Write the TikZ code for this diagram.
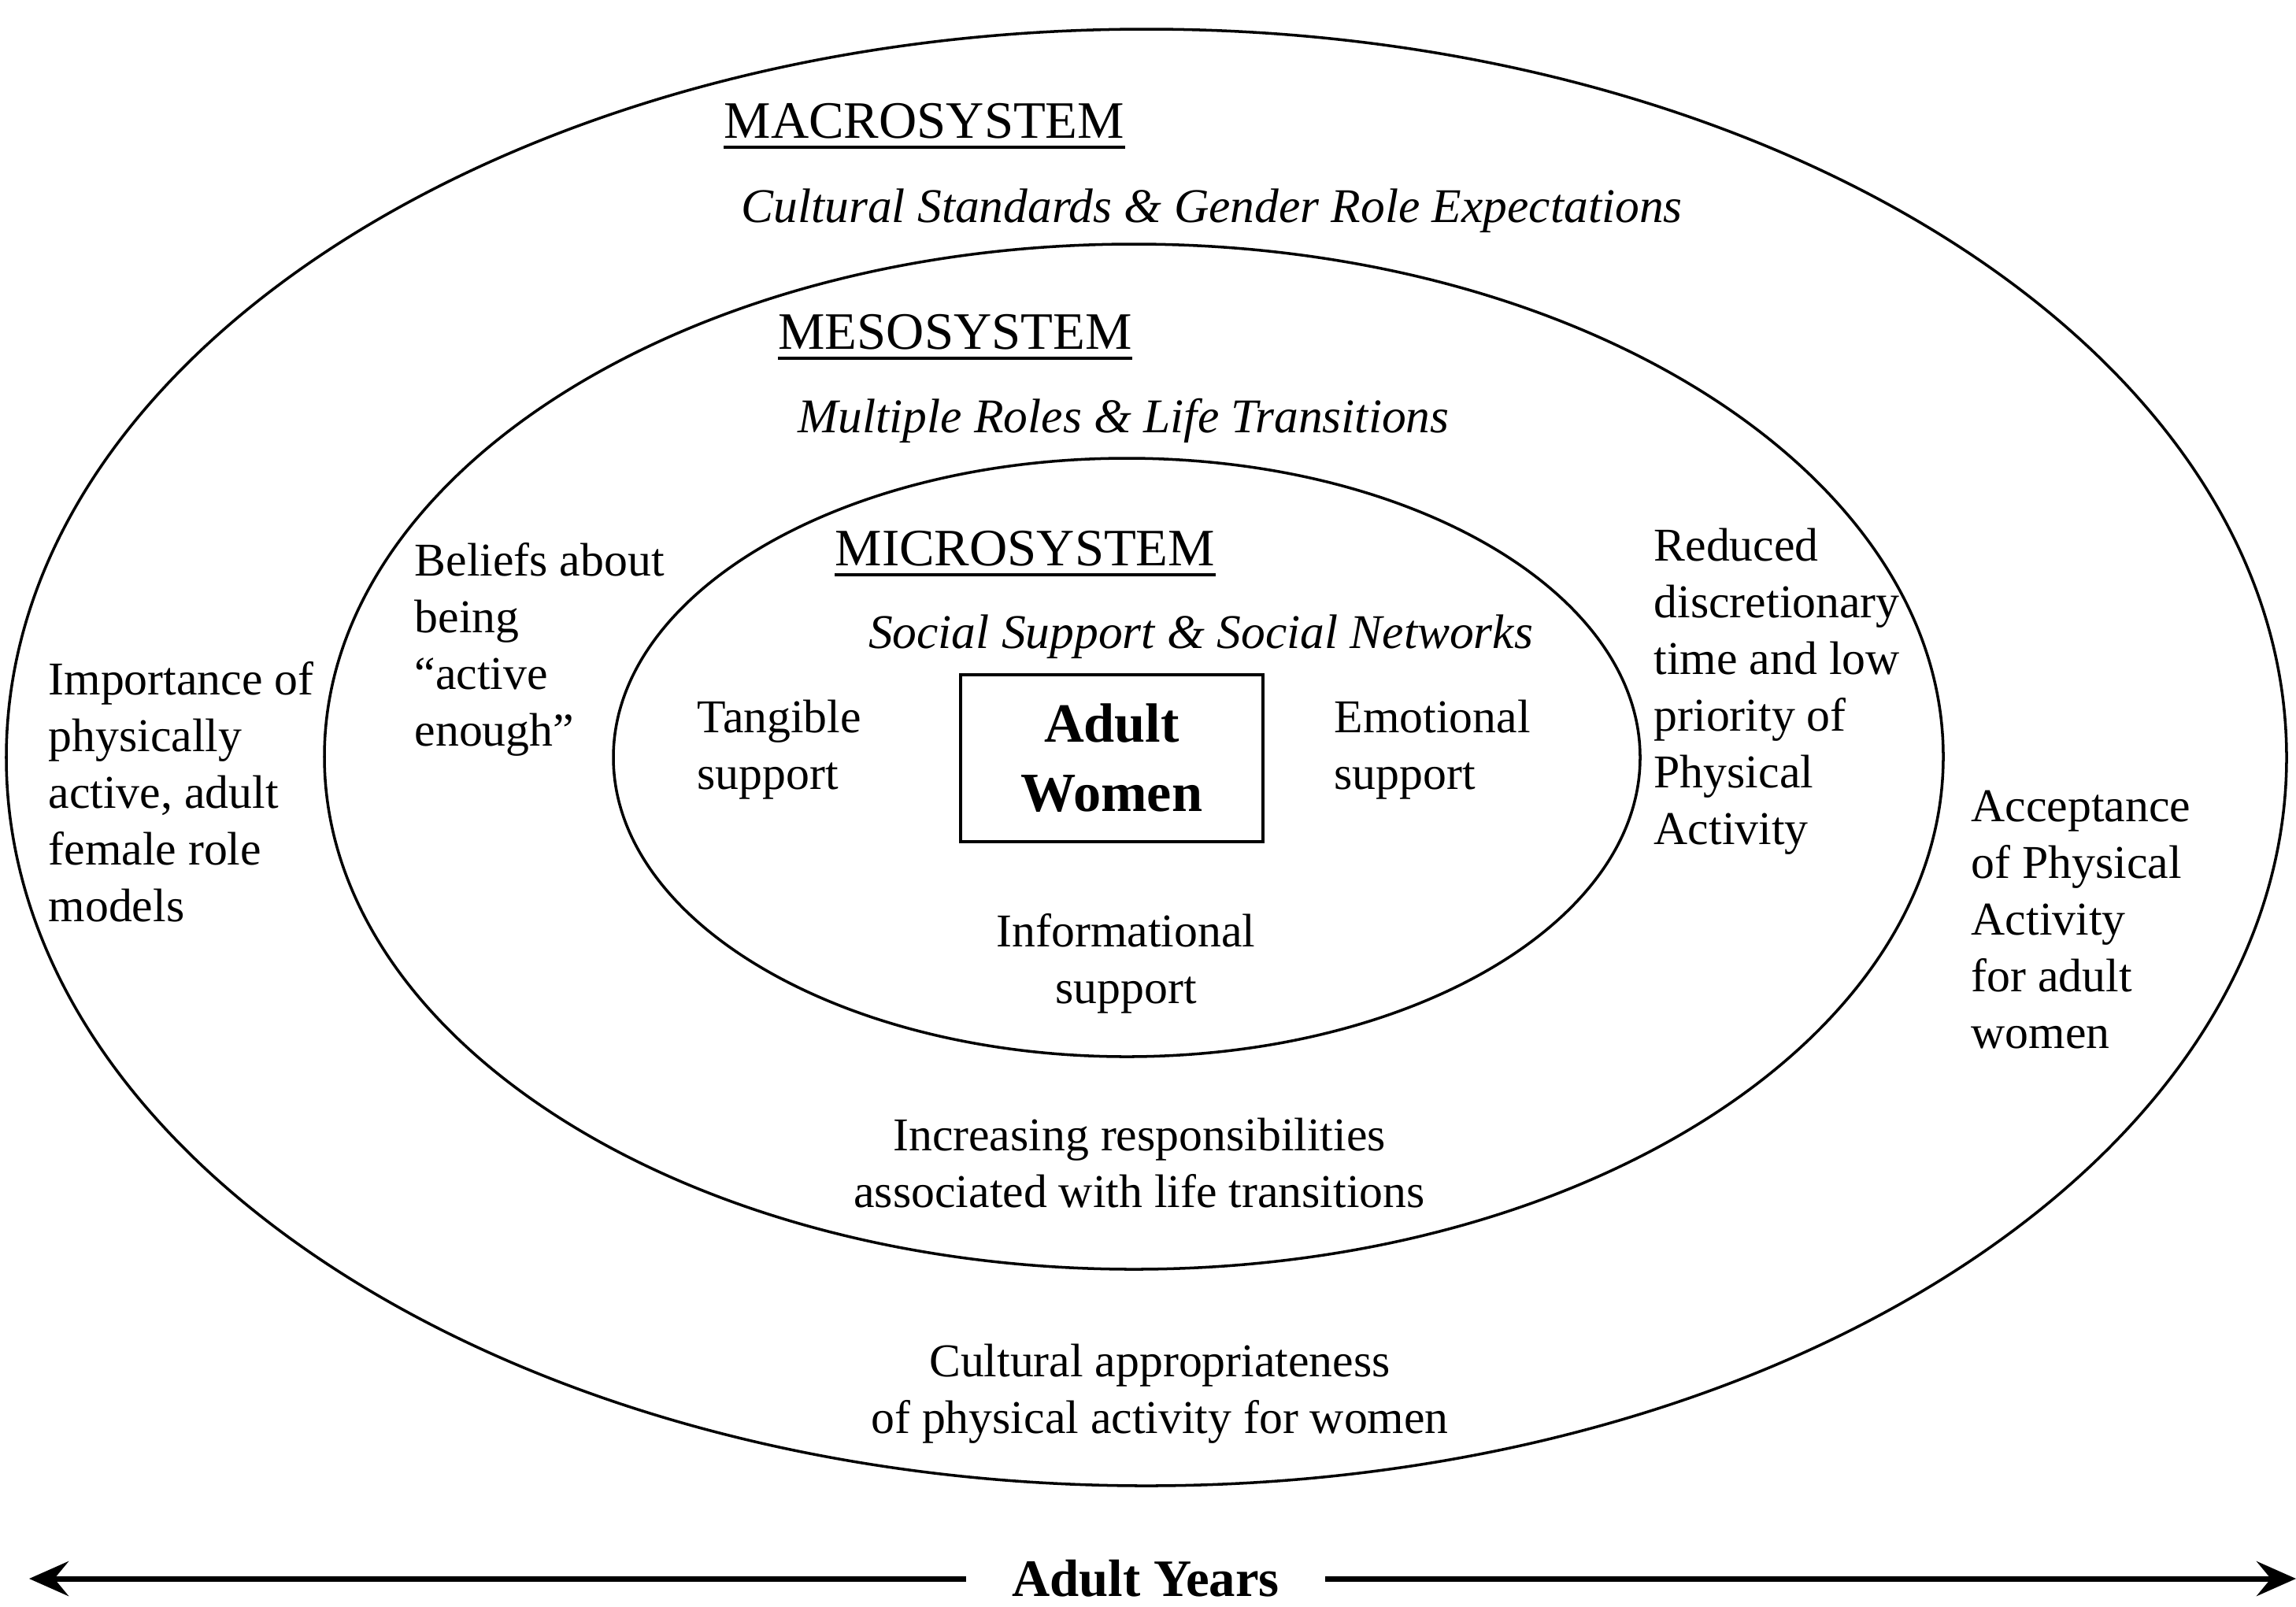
\documentclass[tikz,border=0pt]{standalone}
\usepackage{fontspec}
\setmainfont{Liberation Serif}
\usetikzlibrary{arrows.meta}

\begin{document}
\begin{tikzpicture}[
    txt/.style={inner sep=0pt, align=left, font=\fontsize{17}{20.5}\selectfont},
    ctxt/.style={txt, align=center},
    head/.style={inner sep=0pt, font=\fontsize{19}{22}\selectfont},
    sub/.style={inner sep=0pt, font=\fontsize{17.5}{21}\selectfont\itshape},
    ring/.style={line width=1pt},
    arr/.style={line width=2pt, -{Stealth[length=5mm,width=4.4mm,inset=1.8mm]}}
]
    \useasboundingbox (0,0) rectangle (29.16,-20.40);

    \coordinate (Cmacro) at (14.56,-9.62);
    \coordinate (Cmeso) at (14.40,-9.61);
    \coordinate (Cmicro) at (14.31,-9.62);

    \draw[ring] (Cmacro) ellipse [x radius=14.48, y radius=9.25];
    \draw[ring] (Cmeso) ellipse [x radius=10.28, y radius=6.51];
    \draw[ring] (Cmicro) ellipse [x radius=6.52, y radius=3.80];

    % system headings
    \node[head] (macro) at (11.74,-1.54) {MACROSYSTEM};
    \draw[line width=1pt] ([yshift=-1mm]macro.south west) -- ([yshift=-1mm]macro.south east);
    \node[sub] (macrosub) at (15.39,-2.68) {Cultural Standards \& Gender Role Expectations};

    \node[head] (meso) at (12.13,-4.22) {MESOSYSTEM};
    \draw[line width=1pt] ([yshift=-1mm]meso.south west) -- ([yshift=-1mm]meso.south east);
    \node[sub] (mesosub) at (14.27,-5.34) {Multiple Roles \& Life Transitions};

    \node[head] (micro) at (13.02,-6.97) {MICROSYSTEM};
    \draw[line width=1pt] ([yshift=-1mm]micro.south west) -- ([yshift=-1mm]micro.south east);
    \node[sub] (microsub) at (15.25,-8.09) {Social Support \& Social Networks};

    % centre
    \node[draw, line width=1.2pt, minimum width=3.84cm, minimum height=2.12cm, align=center,
          font=\fontsize{20}{25}\selectfont\bfseries] (women) at (14.12,-9.63) {Adult\\Women};

    \node[txt, anchor=west] (tangible) at (8.85,-9.52) {Tangible\\support};
    \node[txt, anchor=west] (emotional) at (16.94,-9.52) {Emotional\\support};
    \node[ctxt] (informational) at (14.30,-12.24) {Informational\\support};

    \node[txt, anchor=west] (beliefs) at (5.26,-8.25) {Beliefs about\\being\\``active\\enough''};
    \node[txt, anchor=west] (reduced) at (21.00,-8.78) {Reduced\\discretionary\\time and low\\priority of\\Physical\\Activity};
    \node[ctxt] (increasing) at (14.47,-14.77) {Increasing responsibilities\\associated with life transitions};

    \node[txt, anchor=west] (importance) at (0.61,-10.06) {Importance of\\physically\\active, adult\\female role\\models};
    \node[txt, anchor=west] (acceptance) at (25.03,-11.68) {Acceptance\\of Physical\\Activity\\for adult\\women};
    \node[ctxt] (appropriate) at (14.73,-17.70) {Cultural appropriateness\\of physical activity for women};

    % time axis
    \node[inner xsep=0.58cm, inner ysep=0pt, font=\fontsize{19}{22}\selectfont\bfseries] (years) at (14.55,-20.05) {Adult Years};
    \coordinate (lend) at (0.37,-20.05);
    \coordinate (rend) at (29.16,-20.05);
    \draw[arr] (years.west) -- (lend);
    \draw[arr] (years.east) -- (rend);
\end{tikzpicture}
\end{document}
